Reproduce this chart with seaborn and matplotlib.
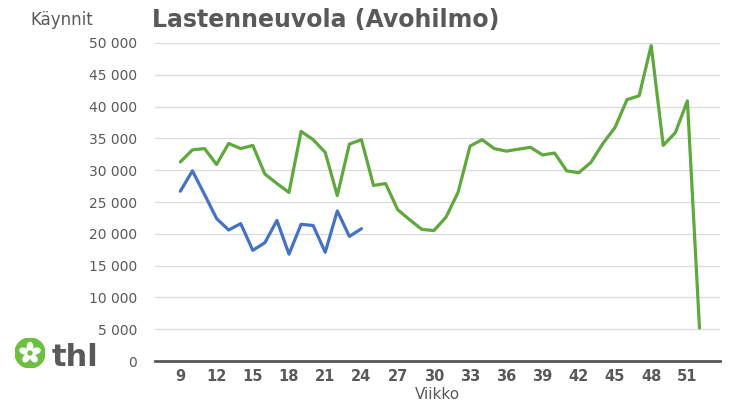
import math
import matplotlib as mpl
mpl.use("Agg")
import matplotlib.pyplot as plt
from matplotlib.patches import Circle, Ellipse
import pandas as pd
import seaborn as sns

weeks_2020 = list(range(9, 53))
visits_2020 = [31300, 33200, 33400, 30900, 34200, 33400, 33900, 29400, 27900, 26500,
               36100, 34800, 32800, 26000, 34100, 34800, 27600, 27900, 23800, 22200,
               20700, 20500, 22600, 26500, 33800, 34800, 33400, 33000, 33300, 33600,
               32400, 32700, 29900, 29600, 31200, 34200, 36700, 41100, 41700, 49600,
               33900, 35900, 40900, 5200]
weeks_2021 = list(range(9, 25))
visits_2021 = [26700, 29900, 26200, 22400, 20600, 21600, 17400, 18600, 22100, 16800,
               21500, 21300, 17100, 23600, 19600, 20800]
x_ticks = list(range(9, 52, 3))
y_ticks = list(range(0, 50001, 5000))

df = pd.concat([
    pd.DataFrame({"Viikko": weeks_2020, "Käynnit": visits_2020, "Vuosi": "2020"}),
    pd.DataFrame({"Viikko": weeks_2021, "Käynnit": visits_2021, "Vuosi": "2021"}),
])

sns.set_style("white")
plt.rcParams["font.family"] = ["DejaVu Sans"]
grey = "#595959"

fig = plt.figure(figsize=(7.41, 4.11), dpi=100)
ax = fig.add_axes([155 / 741, 50 / 411, 565 / 741, 318 / 411])

sns.lineplot(data=df, x="Viikko", y="Käynnit", hue="Vuosi",
             palette={"2020": "#5fa83d", "2021": "#4472c4"},
             linewidth=2.3, legend=False, ax=ax)

ax.set_xlim(6.9, 53.7)
ax.set_ylim(0, 50000)
ax.set_xticks(x_ticks)
ax.set_yticks(y_ticks)
ax.set_yticklabels([f"{v:,}".replace(",", " ") for v in y_ticks])
ax.tick_params(axis="y", length=0, pad=13, labelsize=10, labelcolor=grey)
ax.tick_params(axis="x", length=0, pad=6, labelsize=10.5, labelcolor=grey)
for lbl in ax.get_xticklabels():
    lbl.set_fontweight("bold")
ax.grid(axis="y", color="#dcdcdc", linewidth=1)
ax.set_axisbelow(True)
for s in ["top", "right", "left"]:
    ax.spines[s].set_visible(False)
ax.spines["bottom"].set_color(grey)
ax.spines["bottom"].set_linewidth(2)

ax.set_xlabel("Viikko", fontsize=11, color=grey, labelpad=2)
ax.set_ylabel("")
fig.text(62 / 741, 1 - 20 / 411, "Käynnit", fontsize=12, color=grey, ha="center", va="center")
fig.text(152 / 741, 1 - 20 / 411, "Lastenneuvola (Avohilmo)", fontsize=17,
         fontweight="bold", color=grey, ha="left", va="center")

# thl logo
lax = fig.add_axes([15 / 741, (411 - 368) / 411, 30 / 741, 30 / 411])
lax.set_xlim(-1, 1)
lax.set_ylim(-1, 1)
lax.set_aspect("equal")
lax.axis("off")
lax.add_patch(Circle((0, 0), 1, color="#6cbf3f"))
for ang in [90, 162, 234, 306, 18]:
    r = math.radians(ang)
    lax.add_patch(Ellipse((0.42 * math.cos(r), 0.42 * math.sin(r)), 0.36, 0.56,
                          angle=ang - 90, color="white"))
lax.add_patch(Circle((0, 0), 0.13, color="#6cbf3f"))
fig.text(52 / 741, 1 - 366 / 411, "thl", fontsize=22, fontweight="bold",
         color=grey, ha="left", va="baseline")

plt.savefig("out.png", dpi=100)
plt.close()
